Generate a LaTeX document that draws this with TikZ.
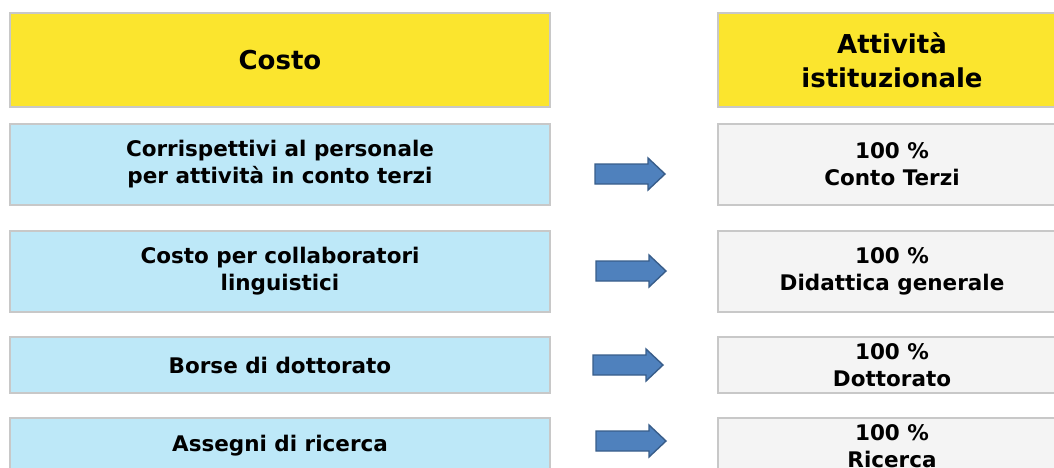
\documentclass[tikz,border=0pt]{standalone}
\usepackage{fontspec}
\setmainfont{DejaVu Sans}
\definecolor{hdryellow}{RGB}{251,229,46}
\definecolor{costblue}{RGB}{189,232,248}
\definecolor{resgray}{RGB}{244,244,244}
\definecolor{boxborder}{RGB}{200,200,200}
\definecolor{arrowfill}{RGB}{79,129,189}
\definecolor{arrowline}{RGB}{56,93,138}
\begin{document}
\begin{tikzpicture}[x=1pt,y=-1pt,
  basebox/.style={draw=boxborder,line width=2pt,rectangle,inner sep=0pt,align=center,
    font=\fontsize{21.5}{27}\selectfont\bfseries},
  header/.style={basebox,fill=hdryellow,font=\fontsize{26}{34}\selectfont\bfseries},
  costbox/.style={basebox,fill=costblue,minimum width=540pt},
  resbox/.style={basebox,fill=resgray,minimum width=348pt},
  pics/blockarrow/.style={code={
    \draw[fill=arrowfill,draw=arrowline,line width=1.4pt,line join=miter]
      (0,-10) -- (53,-10) -- (53,-16) -- (70,0) -- (53,16) -- (53,10) -- (0,10) -- cycle;}}
]
\useasboundingbox (0,0) rectangle (1054,468);
\begin{scope}
\clip (0,0) rectangle (1054,468);
% headers
\node[header,minimum width=540pt,minimum height=94pt] (hcost) at (280,60) {Costo};
\node[header,minimum width=348pt,minimum height=94pt] (hatt) at (892,60) {Attività\\istituzionale};
% cost boxes
\node[costbox,minimum height=81pt] (c1) at (280,164.5) {Corrispettivi al personale\\per attività in conto terzi};
\node[costbox,minimum height=81pt] (c2) at (280,271.5) {Costo per collaboratori\\linguistici};
\node[costbox,minimum height=56pt] (c3) at (280,365) {Borse di dottorato};
\node[costbox,minimum height=56pt] (c4) at (280,446) {Assegni di ricerca};
% result boxes
\node[resbox,minimum height=81pt] (r1) at (892,164.5) {100 \%\\Conto Terzi};
\node[resbox,minimum height=81pt] (r2) at (892,271.5) {100 \%\\Didattica generale};
\node[resbox,minimum height=56pt] (r3) at (892,365) {100 \%\\Dottorato};
\node[resbox,minimum height=56pt] (r4) at (892,446) {100 \%\\Ricerca};
% arrows
\pic (a1) at (595,174) {blockarrow};
\pic (a2) at (596,271) {blockarrow};
\pic (a3) at (593,365) {blockarrow};
\pic (a4) at (596,441) {blockarrow};
\end{scope}
\end{tikzpicture}
\end{document}
